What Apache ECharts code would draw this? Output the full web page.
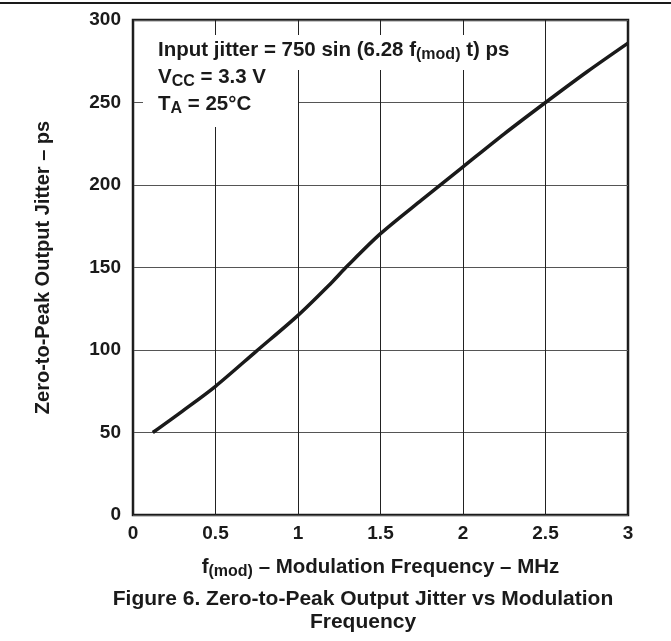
<!DOCTYPE html>
<html>
<head>
<meta charset="utf-8">
<script src="https://cdn.jsdelivr.net/npm/echarts@6/dist/echarts.min.js"></script>
<style>
html,body{margin:0;padding:0;background:#fff;}
#c{width:671px;height:641px;}
</style>
</head>
<body>
<div id="c"></div>
<script>
// Data
const freqMHz = [0.12, 0.3, 0.5, 0.75, 1.0, 1.2, 1.3, 1.5, 1.75, 2.0, 2.25, 2.5, 2.75, 3.0];
const jitterPs = [50, 63, 78, 99.5, 121, 140.5, 151, 170.5, 191, 211, 231, 250, 268.5, 286];
const xTicks = [0, 0.5, 1, 1.5, 2, 2.5, 3];
const yTicks = [0, 50, 100, 150, 200, 250, 300];

const FONT = '"Liberation Sans", Arial, Helvetica, sans-serif';
const INK = '#1a1a1a';
const chart = echarts.init(document.getElementById('c'));

const richAnn = {
  m: {fontSize: 20.5, fontWeight: 'bold', fill: INK, fontFamily: FONT},
  s: {fontSize: 16, fontWeight: 'bold', fill: INK, fontFamily: FONT, padding: [9, 0, 0, 0]}
};

chart.setOption({
  backgroundColor: '#fff',
  animation: false,
  grid: {left: 133, right: 43, top: 20, bottom: 126, show: true,
         borderColor: INK, borderWidth: 2.5, backgroundColor: 'transparent'},
  xAxis: {
    type: 'value', min: xTicks[0], max: xTicks[xTicks.length - 1], interval: 0.5,
    axisLine: {show: false},
    axisTick: {show: false},
    splitLine: {show: true, lineStyle: {color: '#222', width: 1}},
    axisLabel: {margin: 9, color: INK, fontSize: 19, fontWeight: 'bold', fontFamily: FONT,
                formatter: v => String(v)},
    name: '{f|f}{sub|(mod)}{t| – Modulation Frequency – MHz}',
    nameLocation: 'middle', nameGap: 40,
    nameTextStyle: {
      fontFamily: FONT,
      rich: {
        f: {fontSize: 20.5, fontWeight: 'bold', color: INK, fontFamily: FONT},
        sub: {fontSize: 16, fontWeight: 'bold', color: INK, fontFamily: FONT, padding: [9, 0, 0, 0]},
        t: {fontSize: 20.5, fontWeight: 'bold', color: INK, fontFamily: FONT}
      }
    }
  },
  yAxis: {
    type: 'value', min: yTicks[0], max: yTicks[yTicks.length - 1], interval: 50,
    axisLine: {show: false},
    axisTick: {show: false},
    splitLine: {show: true, lineStyle: {color: '#555', width: 1.2}},
    axisLabel: {margin: 12, color: INK, fontSize: 19, fontWeight: 'bold', fontFamily: FONT},
    name: 'Zero-to-Peak Output Jitter – ps',
    nameLocation: 'middle', nameGap: 80, nameRotate: 90,
    nameTextStyle: {fontSize: 20, fontWeight: 'bold', color: INK, fontFamily: FONT}
  },
  series: [{
    type: 'line',
    data: freqMHz.map((x, i) => [x, jitterPs[i]]),
    smooth: 0.3,
    showSymbol: false,
    lineStyle: {color: INK, width: 3.5},
    z: 5
  }],
  graphic: [
    {type: 'rect', z: 50, shape: {x: 143, y: 35, width: 374, height: 35}, style: {fill: '#fff'}},
    {type: 'rect', z: 50, shape: {x: 143, y: 70, width: 155, height: 57}, style: {fill: '#fff'}},
    {type: 'text', z: 60, left: 158, top: 40,
     style: {text: '{m|Input jitter = 750 sin (6.28 f}{s|(mod)}{m| t) ps}', rich: richAnn}},
    {type: 'text', z: 60, left: 158, top: 67,
     style: {text: '{m|V}{s|CC}{m| = 3.3 V}', rich: richAnn}},
    {type: 'text', z: 60, left: 158, top: 94,
     style: {text: '{m|T}{s|A}{m| = 25°C}', rich: richAnn}},
    {type: 'line', z: 60, shape: {x1: 0, y1: 3, x2: 671, y2: 3}, style: {stroke: INK, lineWidth: 2}},
    {type: 'text', z: 60, x: 363, y: 599,
     style: {text: 'Figure 6. Zero-to-Peak Output Jitter vs Modulation', fontSize: 21, fontWeight: 'bold',
             fill: INK, fontFamily: FONT, textAlign: 'center', textVerticalAlign: 'middle'}},
    {type: 'text', z: 60, x: 363, y: 622,
     style: {text: 'Frequency', fontSize: 21, fontWeight: 'bold',
             fill: INK, fontFamily: FONT, textAlign: 'center', textVerticalAlign: 'middle'}}
  ]
});
</script>
</body>
</html>
